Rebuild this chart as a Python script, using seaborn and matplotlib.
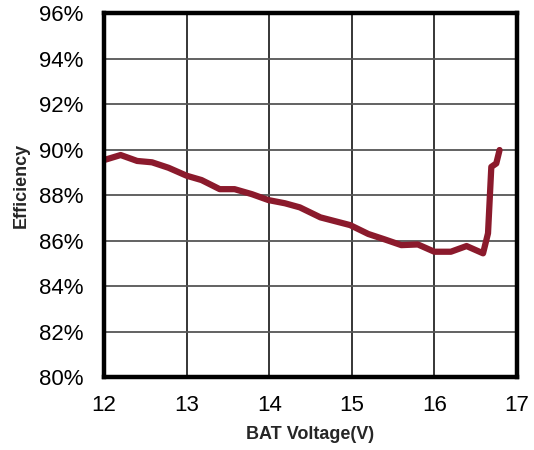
import matplotlib
matplotlib.use("Agg")
import matplotlib.pyplot as plt
import seaborn as sns
import pandas as pd
from matplotlib.ticker import FuncFormatter

# BAT voltage (V) vs efficiency (%)
bat_voltage = [12.0, 12.2, 12.4, 12.58, 12.78, 13.0, 13.18, 13.4, 13.58, 13.79,
               13.99, 14.19, 14.37, 14.62, 14.98, 15.2, 15.4, 15.6, 15.8, 16.0,
               16.2, 16.39, 16.59, 16.65, 16.69, 16.75, 16.79]
efficiency = [89.54, 89.76, 89.5, 89.44, 89.2, 88.85, 88.66, 88.26, 88.26, 88.04,
              87.78, 87.64, 87.46, 87.02, 86.68, 86.29, 86.05, 85.8, 85.83, 85.51,
              85.51, 85.76, 85.44, 86.32, 89.24, 89.39, 89.98]

x_ticks = [12, 13, 14, 15, 16, 17]
y_ticks = [80, 82, 84, 86, 88, 90, 92, 94, 96]

df = pd.DataFrame({"BAT Voltage(V)": bat_voltage, "Efficiency": efficiency})

sns.set_style("white")
plt.rcParams['font.family'] = ['Liberation Sans', 'DejaVu Sans']

fig, ax = plt.subplots(figsize=(5.34, 4.5), dpi=100)
fig.subplots_adjust(left=0.195, right=0.968, top=0.971, bottom=0.162)

sns.lineplot(data=df, x="BAT Voltage(V)", y="Efficiency", ax=ax,
             color="#8B1A2C", linewidth=4.5, solid_joinstyle="round",
             solid_capstyle="round", sort=False, zorder=3)

ax.set_xlim(12, 17)
ax.set_ylim(80, 96)
ax.set_xticks(x_ticks)
ax.set_yticks(y_ticks)
ax.yaxis.set_major_formatter(FuncFormatter(lambda v, _: f"{v:.0f}%"))

ax.xaxis.grid(True, color="black", linewidth=1.1)
ax.yaxis.grid(True, color="#555555", linewidth=1.3)
ax.set_axisbelow(True)

for s in ax.spines.values():
    s.set_visible(True)
    s.set_color("black")
    s.set_linewidth(3.2)
    s.set_zorder(4)

ax.tick_params(axis="both", length=0, labelsize=16, colors="black")
ax.tick_params(axis="y", pad=15)
ax.tick_params(axis="x", pad=13)

ax.set_xlabel("BAT Voltage(V)", fontsize=13, fontweight="bold", labelpad=7)
ax.set_ylabel("Efficiency", fontsize=13, fontweight="bold")
ax.yaxis.set_label_coords(-0.18, 0.527)

fig.savefig("out.png", dpi=100)
